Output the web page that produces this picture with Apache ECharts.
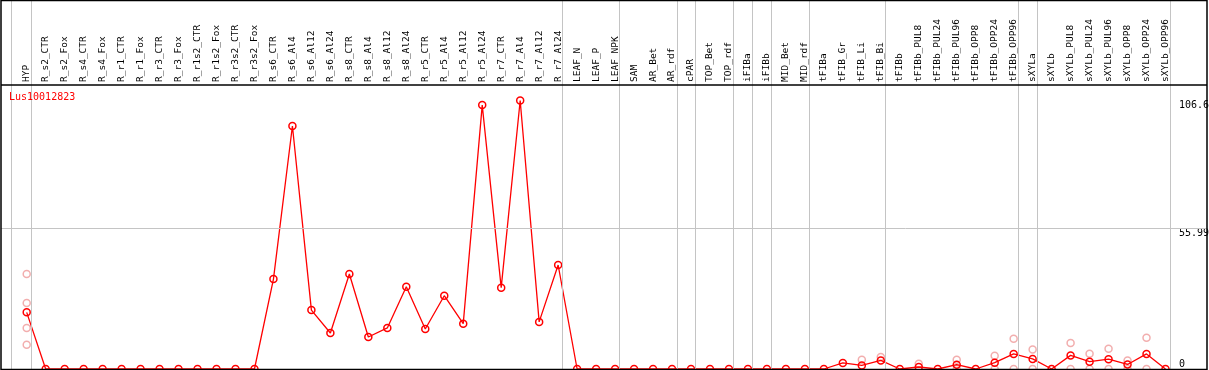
<!DOCTYPE html>
<html>
<head>
<meta charset="utf-8">
<script src="https://cdn.jsdelivr.net/npm/echarts@6/dist/echarts.min.js"></script>
<style>
  html, body { margin: 0; padding: 0; background: #fff; }
  #chart { width: 1209px; height: 370px; }
</style>
</head>
<body>
<div id="chart"></div>
<script>
// sample names, in plot order
var categories = [
  'HYP', 'R_s2_CTR', 'R_s2_Fox', 'R_s4_CTR', 'R_s4_Fox', 'R_r1_CTR', 'R_r1_Fox',
  'R_r3_CTR', 'R_r3_Fox', 'R_r1s2_CTR', 'R_r1s2_Fox', 'R_r3s2_CTR', 'R_r3s2_Fox',
  'R_s6_CTR', 'R_s6_Al4', 'R_s6_Al12', 'R_s6_Al24', 'R_s8_CTR', 'R_s8_Al4',
  'R_s8_Al12', 'R_s8_Al24', 'R_r5_CTR', 'R_r5_Al4', 'R_r5_Al12', 'R_r5_Al24',
  'R_r7_CTR', 'R_r7_Al4', 'R_r7_Al12', 'R_r7_Al24', 'LEAF_N', 'LEAF_P', 'LEAF_NPK',
  'SAM', 'AR_Bet', 'AR_rdf', 'cPAR', 'TOP_Bet', 'TOP_rdf', 'iFIBa', 'iFIBb',
  'MID_Bet', 'MID_rdf', 'tFIBa', 'tFIB_Gr', 'tFIB_Li', 'tFIB_Bi', 'tFIBb',
  'tFIBb_PUL8', 'tFIBb_PUL24', 'tFIBb_PUL96', 'tFIBb_OPP8', 'tFIBb_OPP24', 'tFIBb_OPP96',
  'sXYLa', 'sXYLb', 'sXYLb_PUL8', 'sXYLb_PUL24', 'sXYLb_PUL96', 'sXYLb_OPP8',
  'sXYLb_OPP24', 'sXYLb_OPP96'
];

// mean expression per sample
var means = [
  22.5, 0, 0, 0, 0, 0, 0, 0, 0, 0, 0, 0, 0,
  35.7, 96.5, 23.4, 14.3, 37.7, 12.7, 16.3, 32.7,
  15.9, 29.1, 18.0, 104.8, 32.3, 106.6, 18.7, 41.3,
  0, 0, 0, 0, 0, 0, 0, 0, 0, 0, 0, 0, 0,
  0, 2.4, 1.4, 3.4, 0, 0.8, 0, 1.7, 0, 2.5, 6.0,
  4.0, 0, 5.4, 2.9, 3.9, 1.8, 6.0, 0
];

// single replicates that show apart from the mean
var repNames = [
  'HYP', 'HYP', 'HYP', 'HYP', 'tFIB_Li', 'tFIB_Bi', 'tFIBb_PUL8',
  'tFIBb_PUL96', 'tFIBb_PUL96', 'tFIBb_OPP24', 'tFIBb_OPP24', 'tFIBb_OPP96', 'tFIBb_OPP96',
  'sXYLa', 'sXYLa', 'sXYLb_PUL8', 'sXYLb_PUL8', 'sXYLb_PUL24', 'sXYLb_PUL24',
  'sXYLb_PUL96', 'sXYLb_PUL96', 'sXYLb_OPP8', 'sXYLb_OPP8', 'sXYLb_OPP24', 'sXYLb_OPP24'
];
var repValues = [
  37.7, 26.2, 16.3, 9.6, 3.7, 4.8, 2.1,
  3.7, 0, 5.3, 0, 12.0, 0,
  7.7, 0, 10.3, 0, 6.1, 0,
  8.0, 0, 3.4, 0, 12.4, 0
];

// y labels
var yLabels = [55.99, 106.6];
var yZero = [0];
var yTop = 111.98;

// group separators, in category units
var separators = [-0.84, 0.22, 28.24, 31.22, 34.25, 35.25, 37.22, 38.22, 39.22,
  41.22, 45.25, 52.23, 53.23, 60.24];

var geneName = 'Lus10012823';

// layout
var W = 1209, H = 370;
var boxLeft = 1, boxRight = 1207, boxBottom = 369, stripY = 85, plotTop = 87;
var firstX = 26.7, step = 18.98;
var font = '"DejaVu Sans Mono", "Liberation Mono", monospace';

var xMin = (boxLeft - firstX) / step;
var xMax = (boxRight - firstX) / step;
var yMaxFull = yTop * boxBottom / (boxBottom - plotTop);

var lineData = means.map(function (v, i) { return [i, v]; });
var repData = repNames.map(function (n, k) {
  return [categories.indexOf(n), repValues[k]];
});

var chart = echarts.init(document.getElementById('chart'));

var option = {
  animation: false,
  backgroundColor: '#fff',
  title: {
    text: geneName,
    left: 9, top: 92, padding: 0,
    textStyle: { color: '#ff0000', fontSize: 10, fontWeight: 'normal', fontFamily: font }
  },
  grid: [
    { left: boxLeft, right: W - boxRight, top: 0, bottom: H - boxBottom, outerBoundsMode: 'none' },
    { left: firstX - step / 2, width: step * categories.length, top: stripY, height: 1, outerBoundsMode: 'none' }
  ],
  xAxis: [
    { type: 'value', gridIndex: 0, min: xMin, max: xMax, show: false },
    {
      type: 'category', gridIndex: 1, position: 'top', data: categories,
      boundaryGap: true,
      axisLine: { show: false }, axisTick: { show: false }, splitLine: { show: false },
      axisLabel: {
        interval: 0, rotate: 90, margin: 3, hideOverlap: false,
        color: '#000', fontSize: 9.5, fontFamily: font
      }
    }
  ],
  yAxis: [
    {
      type: 'value', gridIndex: 0, position: 'right', min: 0, max: yMaxFull,
      axisLine: { show: false }, axisTick: { show: false }, splitLine: { show: false },
      axisLabel: {
        customValues: yLabels, margin: -28, align: 'left', verticalAlign: 'top',
        color: '#000', fontSize: 10, fontFamily: font,
        formatter: function (v) { return String(v); }
      }
    },
    { type: 'value', gridIndex: 1, show: false },
    {
      type: 'value', gridIndex: 0, position: 'right', min: 0, max: yMaxFull,
      axisLine: { show: false }, axisTick: { show: false }, splitLine: { show: false },
      axisLabel: {
        customValues: yZero, margin: -28, align: 'left', verticalAlign: 'bottom',
        color: '#000', fontSize: 10, fontFamily: font
      }
    }
  ],
  graphic: [
    {
      type: 'rect', silent: true, z: 100,
      shape: { x: boxLeft, y: 0.5, width: boxRight - boxLeft, height: boxBottom },
      style: { fill: 'none', stroke: '#000', lineWidth: 1.5 }
    },
    {
      type: 'line', silent: true, z: 100,
      shape: { x1: boxLeft, y1: stripY, x2: boxRight, y2: stripY },
      style: { stroke: '#000', lineWidth: 1.5 }
    }
  ],
  series: [
    {
      name: 'replicates',
      type: 'scatter',
      xAxisIndex: 0, yAxisIndex: 0,
      data: repData,
      symbol: 'circle',
      symbolSize: 7,
      clip: false,
      z: 2,
      itemStyle: { color: 'rgba(0,0,0,0)', borderColor: '#ef9a9a', borderWidth: 1.5 },
      markLine: {
        silent: true, symbol: 'none', animation: false,
        label: { show: false },
        lineStyle: { color: '#c4c4c4', type: 'solid', width: 1 },
        data: separators.map(function (s) { return { xAxis: s }; })
          .concat([{ yAxis: yLabels[0] }])
      }
    },
    {
      name: geneName,
      type: 'line',
      xAxisIndex: 0, yAxisIndex: 0,
      data: lineData,
      symbol: 'circle',
      symbolSize: 7,
      showAllSymbol: true,
      clip: false,
      z: 3,
      lineStyle: { color: '#ff0000', width: 1.3 },
      itemStyle: { color: 'rgba(0,0,0,0)', borderColor: '#ff0000', borderWidth: 1.5 }
    }
  ]
};

chart.setOption(option);
</script>
</body>
</html>
